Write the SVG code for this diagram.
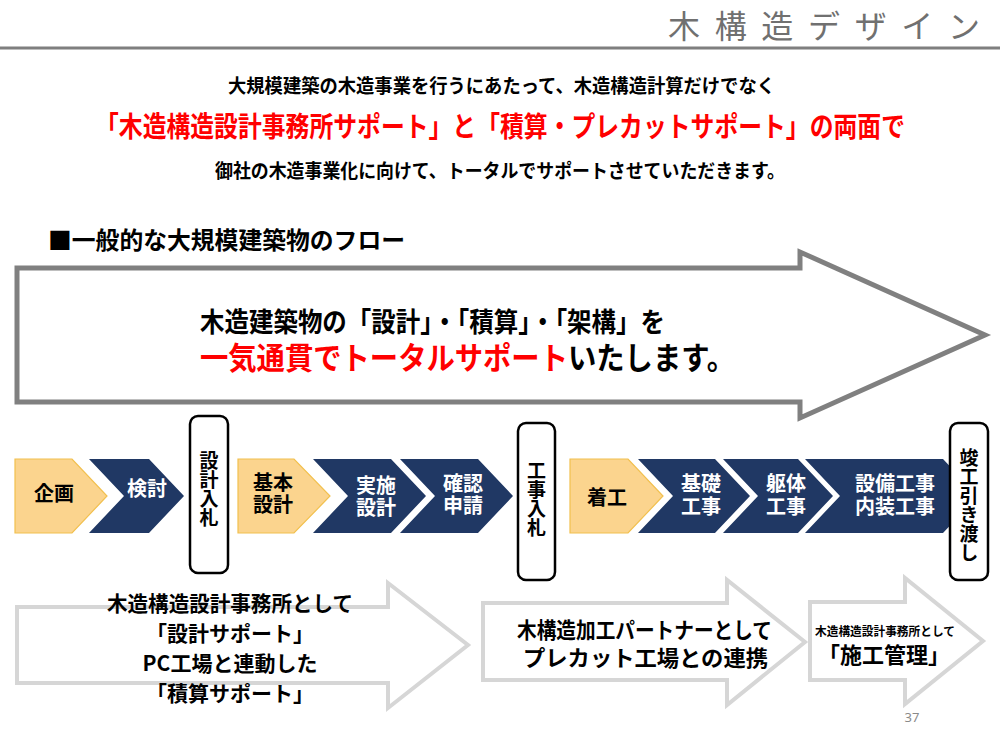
<svg xmlns="http://www.w3.org/2000/svg" width="1000" height="750" viewBox="0 0 1000 750">
<defs>
<style>
text{font-family:"Noto Sans CJK JP","Noto Sans CJK SC",sans-serif;font-weight:700;fill:#000}
.hdr{font-weight:400;fill:#707070}
.red{fill:#ff0000}
.wt{fill:#ffffff;font-size:20px;text-anchor:middle}
.bk{font-size:20px;text-anchor:middle}
.yel{fill:#fbd48e;stroke:#f2c04e;stroke-width:1.2}
.navy{fill:#203864}
.box{fill:#ffffff;stroke:#000;stroke-width:2.5}
.vt{writing-mode:vertical-rl;text-anchor:middle;font-size:19px}
.big{fill:#ffffff;stroke:#808080;stroke-width:5}
.lite{fill:#ffffff;stroke:#d6d6d6;stroke-width:4}
</style>
</defs>
<rect width="1000" height="750" fill="#ffffff"/>
<g id="header">
<text class="hdr" x="668" y="38" font-size="32" textLength="312" lengthAdjust="spacing">木構造デザイン</text>
<line x1="0" y1="48" x2="1000" y2="48" stroke="#7f7f7f" stroke-width="3"/>
</g>
<g id="intro">
<text x="228" y="93" font-size="19" textLength="547" lengthAdjust="spacingAndGlyphs">大規模建築の木造事業を行うにあたって、木造構造計算だけでなく</text>
<text class="red" x="95" y="137" font-size="28" textLength="810" lengthAdjust="spacingAndGlyphs">「木造構造設計事務所サポート」と「積算・プレカットサポート」の両面で</text>
<text x="215" y="178" font-size="19" textLength="570" lengthAdjust="spacingAndGlyphs">御社の木造事業化に向けて、トータルでサポートさせていただきます。</text>
</g>
<g id="heading">
<text x="48" y="249" font-size="24" textLength="357" lengthAdjust="spacingAndGlyphs">■一般的な大規模建築物のフロー</text>
</g>
<g id="main-arrow">
<polygon class="big" points="17,268 800,268 800,252 985,335 800,418 800,402 17,402"/>
<text x="200" y="332" font-size="27" textLength="465" lengthAdjust="spacingAndGlyphs">木造建築物の「設計」・「積算」・「架構」を</text>
<text x="200" y="369" font-size="31" textLength="535" lengthAdjust="spacingAndGlyphs"><tspan class="red">一気通貫でトータルサポート</tspan>いたします。</text>
</g>
<g id="flow">
<g id="kikaku">
<polygon class="yel" points="15,459 72,459 107,496 72,533 15,533"/>
<text class="bk" x="54" y="501">企画</text>
</g>
<g id="kento">
<polygon class="navy" points="89,459 149,459 184,496 149,533 89,533 124,496"/>
<text class="wt" x="147" y="496">検討</text>
</g>
<g id="kihon">
<polygon class="yel" points="238,459 294,459 330,496 294,533 238,533"/>
<text class="bk" x="273" y="490">基本<tspan x="273" dy="22">設計</tspan></text>
</g>
<g id="jisshi">
<polygon class="navy" points="313,459 391,459 426,496 391,533 313,533 348,496"/>
<text class="wt" x="376" y="493">実施<tspan x="376" dy="22">設計</tspan></text>
</g>
<g id="kakunin">
<polygon class="navy" points="400,459 478,459 513,496 478,533 400,533 435,496"/>
<text class="wt" x="463" y="491">確認<tspan x="463" dy="22">申請</tspan></text>
</g>
<g id="chakko">
<polygon class="yel" points="570,459 628,459 663,496 628,533 570,533"/>
<text class="bk" x="607" y="505">着工</text>
</g>
<g id="kiso">
<polygon class="navy" points="638,459 715,459 750,496 715,533 638,533 673,496"/>
<text class="wt" x="701" y="491">基礎<tspan x="701" dy="23">工事</tspan></text>
</g>
<g id="kutai">
<polygon class="navy" points="723,459 798,459 833,496 798,533 723,533 758,496"/>
<text class="wt" x="786" y="491">躯体<tspan x="786" dy="23">工事</tspan></text>
</g>
<g id="setsubi">
<polygon class="navy" points="805,459 943,459 978,496 943,533 805,533 840,496"/>
<text class="wt" x="895" y="491">設備工事<tspan x="895" dy="23">内装工事</tspan></text>
</g>
<g id="sekkei-nyusatsu">
<rect class="box" x="190" y="416" width="38" height="157" rx="8"/>
<text class="vt" x="209" y="489">設計入札</text>
</g>
<g id="koji-nyusatsu">
<rect class="box" x="518" y="423" width="37" height="157" rx="8"/>
<text class="vt" x="536.5" y="499" font-size="20">工事入札</text>
</g>
<g id="hikiwatashi">
<rect class="box" x="950" y="423" width="38" height="157" rx="8"/>
<text class="vt" x="969" y="505" font-size="18.5">竣工引き渡し</text>
</g>
</g>
<g id="support">
<g id="support-design">
<polygon class="lite" points="17,607 388,607 388,583 468,645 388,708 388,683 17,683"/>
<text x="230" y="611" font-size="21" text-anchor="middle"><tspan x="107" textLength="246" lengthAdjust="spacingAndGlyphs" text-anchor="start">木造構造設計事務所として</tspan><tspan x="230" dy="30">「設計サポート」</tspan><tspan x="230" dy="30">PC工場と連動した</tspan><tspan x="230" dy="30">「積算サポート」</tspan></text>
</g>
<g id="support-precut">
<polygon class="lite" points="483,603 727,603 727,580 805,642 727,705 727,680 483,680"/>
<text x="517" y="638" font-size="22" textLength="255" lengthAdjust="spacingAndGlyphs">木構造加工パートナーとして</text>
<text x="523" y="666" font-size="22" textLength="245" lengthAdjust="spacingAndGlyphs">プレカット工場との連携</text>
</g>
<g id="support-construction">
<polygon class="lite" points="810,602 905,602 905,578 983,641 905,704 905,680 810,680"/>
<text x="815" y="636" font-size="12" textLength="140" lengthAdjust="spacingAndGlyphs">木造構造設計事務所として</text>
<text x="818" y="663" font-size="22" textLength="132" lengthAdjust="spacingAndGlyphs">「施工管理」</text>
</g>
</g>
<text x="912" y="722" font-size="13" text-anchor="middle" style="font-family:'Noto Sans',sans-serif;font-weight:400;fill:#8a8a8a">37</text>
</svg>
